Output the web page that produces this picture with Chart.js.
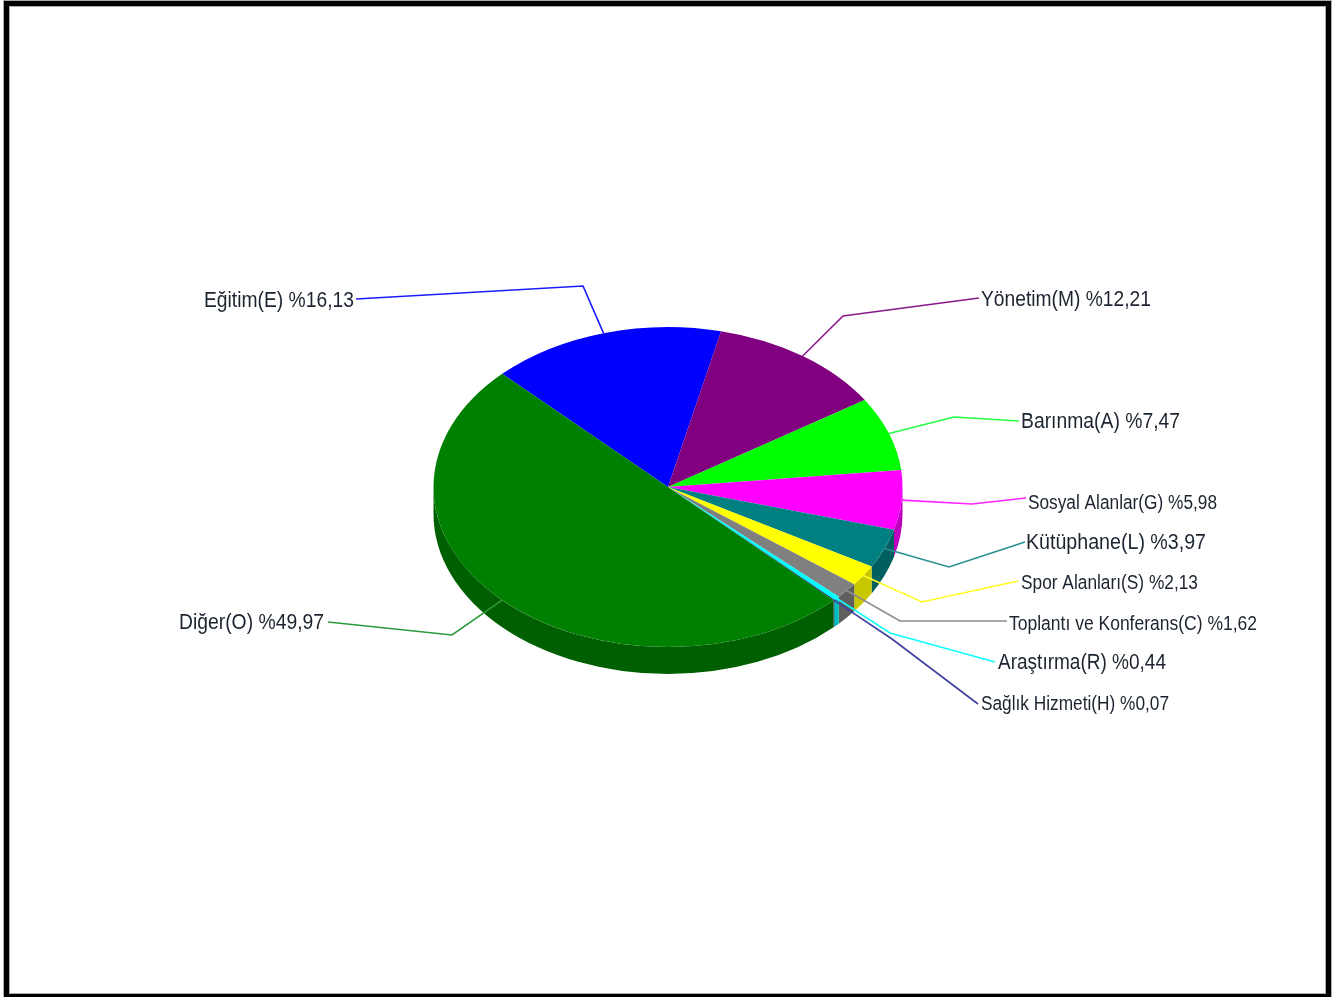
<!DOCTYPE html>
<html lang="tr">
<head>
<meta charset="utf-8">
<title>Alan dağılımı</title>
<script src="https://cdn.jsdelivr.net/npm/chart.js@4/dist/chart.umd.min.js"></script>
<style>
html,body{margin:0;padding:0;width:1339px;height:997px;overflow:hidden;background:#fff}
#frame{position:absolute;left:4px;top:1px;width:1317px;height:988px;border:5px solid #000;box-shadow:inset 0 0 0 1px #aaa,0 0 0 1px #aaa;box-sizing:content-box}
#c{position:absolute;left:0;top:0;filter:blur(.45px)}
</style>
</head>
<body>
<canvas id="c" width="1339" height="997"></canvas>
<div id="frame"></div>
<script>
const categories = ["Eğitim(E)","Yönetim(M)","Barınma(A)","Sosyal Alanlar(G)","Kütüphane(L)","Spor Alanları(S)","Toplantı ve Konferans(C)","Araştırma(R)","Sağlık Hizmeti(H)","Diğer(O)"];
const shares = [16.13,12.21,7.47,5.98,3.97,2.13,1.62,0.44,0.07,49.97];
const sliceColors = ["#0000ff","#800080","#00ff00","#ff00ff","#008080","#ffff00","#808080","#00ffff","#000080","#008000"];
const wallColors = ["#0000bf","#600060","#00bf00","#bf00bf","#005f5f","#c8c800","#5f5f5f","#00bfbf","#000060","#005f00"];
const lineColors = ["#1a1aff","#8a1a8a","#22ff44","#ff22ff","#2a8f8f","#ffff22","#8c8c8c","#11ffff","#3f3f9f","#2a9a3a"];

// Leader-line and label layout (pixels): elbow, line end, text left, text width, text centre y, font px
const elbowX = [583,843,954,972,949,922,900,890,892,452];
const elbowY = [286,316,417,504,567,602,621,633,639,635];
const endX   = [356,979,1019,1026,1025,1018,1007,995,978,328];
const endY   = [299,298,421,498,542,581,621,662,704,622];
const textX  = [204,981,1021,1028,1026,1021,1009,998,981,179];
const textW  = [150,170,159,189,180,177,248,168,188,145];
const textY  = [301,300,422,503,543,583,624,663,704,623];
const textPx = [22,22,22,20,22,20,20,22,20,22];

const TILT = 160 / 234.5;
const DEPTH = 27;

const pie3d = {
  id: 'pie3d',
  beforeDatasetsDraw(chart) {
    const ctx = chart.ctx;
    const arcs = chart.getDatasetMeta(0).data;
    ctx.save();
    // side walls, visible only on the near half of the disc
    arcs.forEach((arc, i) => {
      const p = arc.getProps(['x','y','startAngle','endAngle','outerRadius']);
      const a = Math.max(p.startAngle, 0), b = Math.min(p.endAngle, Math.PI);
      if (b <= a) return;
      const rx = p.outerRadius, ry = rx * TILT;
      ctx.beginPath();
      ctx.ellipse(p.x, p.y, rx, ry, 0, a, b);
      ctx.ellipse(p.x, p.y + DEPTH, rx, ry, 0, b, a, true);
      ctx.closePath();
      ctx.fillStyle = wallColors[i];
      ctx.fill();
    });
    ctx.restore();
    const f = arcs[0].getProps(['x','y']);
    ctx.save();
    ctx.translate(f.x, f.y);
    ctx.scale(1, TILT);
    ctx.translate(-f.x, -f.y);
  },
  afterDatasetsDraw(chart) {
    const ctx = chart.ctx;
    ctx.restore();
    chart.getDatasetMeta(0).data.forEach((arc, i) => {
      const p = arc.getProps(['x','y','startAngle','endAngle','outerRadius']);
      const mid = (p.startAngle + p.endAngle) / 2;
      ctx.beginPath();
      ctx.moveTo(p.x + Math.cos(mid) * p.outerRadius, p.y + Math.sin(mid) * p.outerRadius * TILT);
      ctx.lineTo(elbowX[i], elbowY[i]);
      ctx.lineTo(endX[i], endY[i]);
      ctx.strokeStyle = lineColors[i];
      ctx.lineWidth = 1.6;
      ctx.stroke();
      const t = categories[i] + ' %' + shares[i].toFixed(2).replace('.', ',');
      ctx.save();
      ctx.font = textPx[i] + 'px "Liberation Sans"';
      ctx.textBaseline = 'middle';
      ctx.textAlign = 'left';
      ctx.fillStyle = '#1c2430';
      const w = ctx.measureText(t).width;
      ctx.translate(textX[i], textY[i]);
      ctx.scale(textW[i] / w, 1);
      ctx.fillText(t, 0, 0);
      ctx.restore();
    });
  }
};

new Chart(document.getElementById('c'), {
  type: 'pie',
  data: {
    labels: categories,
    datasets: [{ data: shares, backgroundColor: sliceColors, borderWidth: 0, hoverOffset: 0 }]
  },
  options: {
    responsive: false,
    animation: false,
    rotation: -45,
    layout: { padding: { left: 433.5, right: 436.5, top: 252.5, bottom: 275.5 } },
    plugins: { legend: { display: false }, tooltip: { enabled: false } },
    events: []
  },
  plugins: [pie3d]
});
</script>
</body>
</html>
